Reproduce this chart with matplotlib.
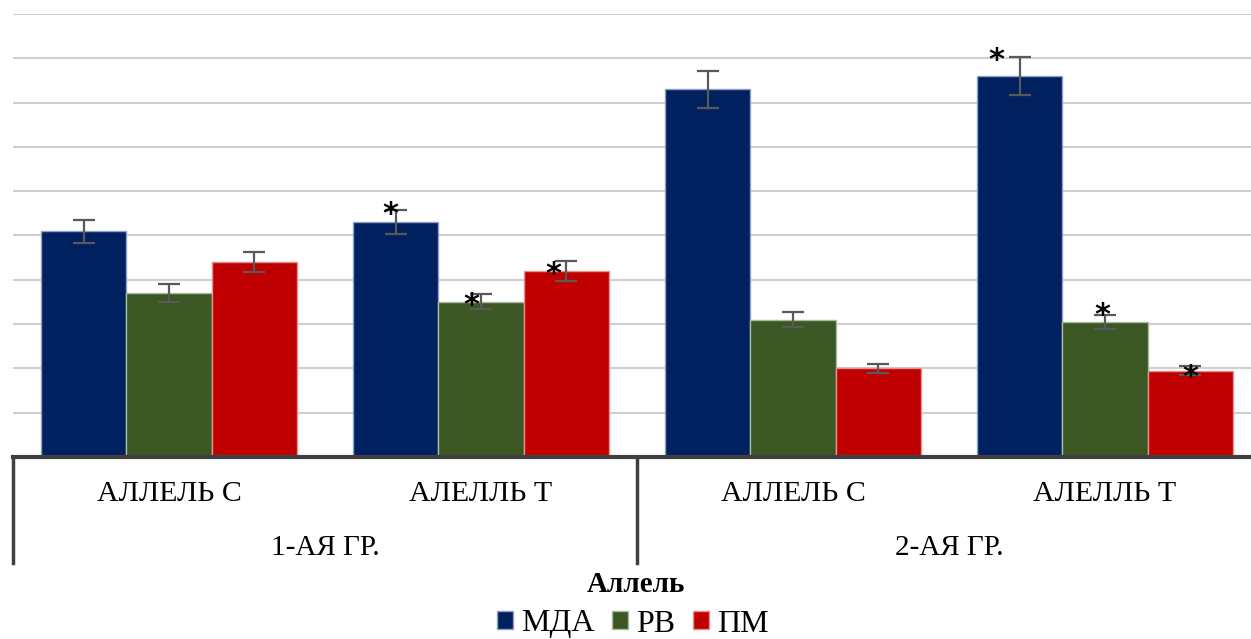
import numpy as np
import matplotlib.pyplot as plt
from matplotlib.transforms import blended_transform_factory

# Data (arbitrary units, grid step = 1)
alleles = ['АЛЛЕЛЬ С', 'АЛЕЛЛЬ Т', 'АЛЛЕЛЬ С', 'АЛЕЛЛЬ Т']
groups = ['1-АЯ ГР.', '2-АЯ ГР.']
series = ['МДА', 'РВ', 'ПМ']

mda = [5.1, 5.3, 8.3, 8.6]
rv = [3.7, 3.5, 3.1, 3.05]
pm = [4.4, 4.2, 2.0, 1.95]

mda_err = [0.26, 0.27, 0.42, 0.43]
rv_err = [0.20, 0.17, 0.17, 0.16]
pm_err = [0.23, 0.22, 0.11, 0.10]

# significance marks: (series index, category index)
stars = [(0, 1), (1, 1), (2, 1), (0, 3), (1, 3), (2, 3)]
# star offset from error-bar top in pixels (dx, dy), style only
star_off = {(0, 1): (-5, -4), (1, 1): (-10, -11), (2, 1): (-13, -13),
            (0, 3): (-23, -4), (1, 3): (-3, -1), (2, 3): (0, -11)}

colors = ['#002060', '#3A5724', '#C00000']
edges = ['#8FA0C0', '#A9B99A', '#E89090']

values = [mda, rv, pm]
errors = [mda_err, rv_err, pm_err]

plt.rcParams['font.family'] = ['Liberation Serif', 'DejaVu Serif']

fig = plt.figure(figsize=(12.51, 6.39), dpi=100)
ax = fig.add_axes([13 / 1251, (639 - 457) / 639, 1248 / 1251, 443 / 639])

x = np.arange(len(alleles))
w = 0.273
for i in range(3):
    pos = x + (i - 1) * w
    ax.bar(pos, values[i], width=w, color=colors[i], edgecolor=edges[i],
           linewidth=1, label=series[i], zorder=3)
    ax.errorbar(pos, values[i], yerr=errors[i], fmt='none', ecolor='#595959',
                elinewidth=1.6, capsize=8, capthick=1.6, zorder=4)

for (si, ci) in stars:
    px = x[ci] + (si - 1) * w
    py = values[si][ci] + errors[si][ci]
    dx, dy = star_off[(si, ci)]
    ax.annotate('*', (px, py), xytext=(dx * 0.72, dy * 0.72),
                textcoords='offset points', ha='center', va='center',
                fontsize=22, fontweight='bold', zorder=5,
                family=['DejaVu Sans'])

ax.set_xlim(-0.5, 3.5)
ax.set_ylim(0, 10)
ax.set_yticks(np.arange(0, 11, 1))
ax.yaxis.grid(True, color='#D0D0D0', linewidth=1.5, zorder=0)
ax.set_yticklabels([])
ax.tick_params(left=False, bottom=False, labelbottom=False)
for s in ['top', 'right', 'left']:
    ax.spines[s].set_visible(False)
ax.spines['bottom'].set_color('#404040')
ax.spines['bottom'].set_linewidth(3)
ax.spines['bottom'].set_zorder(6)

# two-level category axis
tr = blended_transform_factory(ax.transData, ax.transAxes)
y_low = (457 - 563) / 443
for xs in [-0.5, 1.5]:
    ax.plot([xs, xs], [0, y_low], transform=tr, color='#404040',
            linewidth=2.5, clip_on=False)
for xi, lab in zip(x, alleles):
    ax.text(xi, (457 - 494) / 443, lab, transform=tr, ha='center',
            va='center', fontsize=21.5)
for gi, lab in enumerate(groups):
    ax.text(gi * 2 + 0.5, (457 - 548) / 443, lab, transform=tr,
            ha='center', va='center', fontsize=21)

fig.text(636 / 1251, 1 - 584 / 639, 'Аллель', ha='center', va='center',
         fontsize=21, fontweight='bold')

fig.legend(loc='center', bbox_to_anchor=(633 / 1251, 1 - 624 / 639), ncol=3,
           frameon=False, fontsize=23, handlelength=0.5, handleheight=0.5,
           handletextpad=0.25, columnspacing=0.55, borderpad=0)

fig.savefig('out.png', dpi=100)
